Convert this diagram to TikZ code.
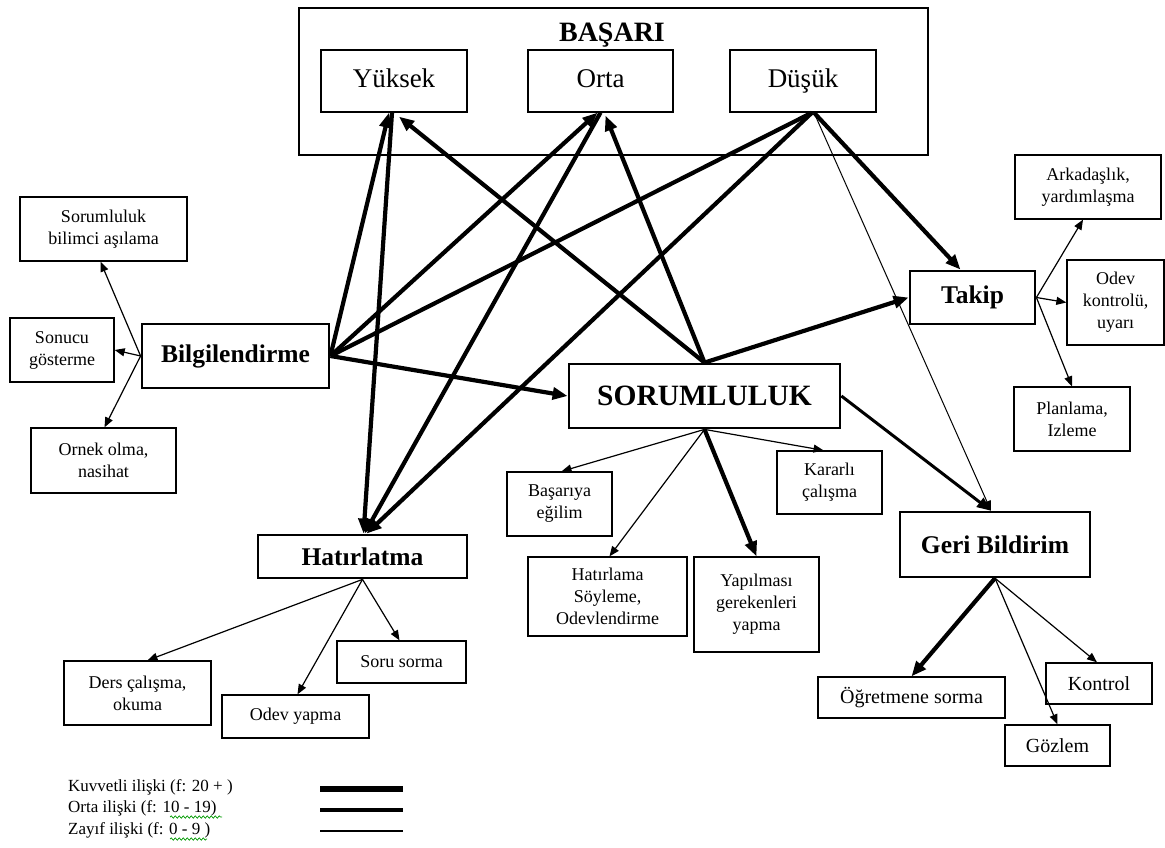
\documentclass[tikz,border=0pt]{standalone}
\usepackage{fontspec}
\setmainfont{Liberation Serif}
\usetikzlibrary{arrows.meta,decorations.pathmorphing}
\newcommand\fsz[2]{\fontsize{#1pt}{#2pt}\selectfont}
\begin{document}
\begin{tikzpicture}[x=1pt,y=-1pt,
  bx/.style={draw, line width=1.3pt, inner sep=0pt, align=center, font=\fsz{18}{22}},
  bxl/.style={bx, font=\fsz{20}{24}},
  lvl/.style={bx, font=\fsz{27}{30}, text height=19pt, text depth=5pt},
  hb/.style={bx, line width=2.8pt, font=\fsz{25.5}{30}\bfseries},
  wk/.style={line width=1.2pt, -{Triangle[length=10pt,width=8pt]}},
  md/.style={line width=3pt, -{Triangle[length=14pt,width=11pt]}},
  st/.style={line width=4.2pt, -{Triangle[length=15pt,width=12pt]}},
  stp/.style={line width=4.2pt},
  hair/.style={line width=1pt, -{Triangle[length=10pt,width=8pt]}},
  legtext/.style={anchor=base west, inner sep=0pt, font=\fsz{17}{20}},
  spell/.style={draw=green!60!black, line width=0.7pt, decorate, decoration={snake, amplitude=1.2pt, segment length=4pt}}
]
\useasboundingbox (0,0) rectangle (1165,848);

% BASARI group
\node[draw, line width=1.8pt, inner sep=0pt, minimum width=629pt, minimum height=147pt] (basari) at (613.5,81.5) {};
\node[inner sep=0pt, font=\fsz{28}{30}\bfseries] (basarit) at (612,35) {BAŞARI};
\node[lvl, minimum width=146pt, minimum height=62pt] (yuk) at (394,81) {Yüksek};
\node[lvl, minimum width=145pt, minimum height=62pt] (orta) at (600.5,81) {Orta};
\node[lvl, minimum width=146pt, minimum height=62pt] (dus) at (803,81) {Düşük};

% Bilgilendirme
\node[hb, minimum width=187pt, minimum height=64pt] (bilg) at (235.5,356) {Bilgilendirme};
\node[bx, minimum width=167pt, minimum height=64pt] (sorbil) at (103.5,229) {Sorumluluk\\bilimci aşılama};
\node[bx, minimum width=104pt, minimum height=64pt] (sonucu) at (62,350) {Sonucu\\gösterme};
\node[bx, minimum width=145pt, minimum height=65pt] (ornek) at (103.5,460.5) {Ornek olma,\\nasihat};

% Sorumluluk
\node[hb, font=\fsz{29.5}{32}\bfseries, minimum width=271pt, minimum height=64pt] (sor) at (704.5,396) {SORUMLULUK};
\node[bx, minimum width=105pt, minimum height=64pt] (bas) at (559.5,504) {Başarıya\\eğilim};
\node[bx, minimum width=105pt, minimum height=63pt] (kar) at (829.5,482.5) {Kararlı\\çalışma};
\node[bx, minimum width=159pt, minimum height=79pt] (hsoy) at (607.5,596.5) {Hatırlama\\Söyleme,\\Odevlendirme};
\node[bx, minimum width=125pt, minimum height=95pt] (yap) at (756.5,604.5) {Yapılması\\gerekenleri\\yapma};

% Takip
\node[hb, minimum width=125pt, minimum height=53pt] (tak) at (972.5,297.5) {Takip};
\node[bx, minimum width=146pt, minimum height=64pt] (ark) at (1088,187) {Arkadaşlık,\\yardımlaşma};
\node[bx, minimum width=97pt, minimum height=85pt] (odk) at (1115.5,302.5) {Odev\\kontrolü,\\uyarı};
\node[bx, minimum width=116pt, minimum height=64pt] (plan) at (1072,419) {Planlama,\\Izleme};

% Geri Bildirim
\node[hb, line width=2.4pt, minimum width=190pt, minimum height=65pt] (geri) at (995,544.5) {Geri Bildirim};
\node[bxl, minimum width=187pt, minimum height=41pt] (ogr) at (911.5,697.5) {Öğretmene sorma};
\node[bxl, minimum width=106pt, minimum height=41pt] (kon) at (1099,683.5) {Kontrol};
\node[bxl, minimum width=105pt, minimum height=41pt] (goz) at (1057.5,745.5) {Gözlem};

% Hatirlatma
\node[hb, minimum width=209pt, minimum height=43pt] (hat) at (362.5,556.5) {Hatırlatma};
\node[bx, minimum width=147pt, minimum height=64pt] (ders) at (137.5,693) {Ders çalışma,\\okuma};
\node[bx, minimum width=147pt, minimum height=43pt] (oy) at (295.5,716.5) {Odev yapma};
\node[bx, minimum width=129pt, minimum height=42pt] (soru) at (401.5,662) {Soru sorma};

% strong connectors around BASARI
\draw[st] (bilg.east) -- ([xshift=-5pt]yuk.south);
\draw[st] (bilg.east) -- ([xshift=-3pt]orta.south);
\draw[stp] (bilg.east) -- ([xshift=9pt]dus.south);
\draw[st] (bilg.east) -- (sor.west);
\draw[st] ([xshift=-2pt]yuk.south) -- ([xshift=1pt]hat.north);
\draw[st] (orta.south) -- ([xshift=2pt]hat.north);
\draw[st] ([xshift=9pt]dus.south) -- ([xshift=4pt]hat.north);
\draw[st] (sor.north) -- ([xshift=5pt,yshift=-4pt]yuk.south);
\draw[st] (sor.north) -- ([xshift=5pt,yshift=-3pt]orta.south);
\draw[st] ([xshift=11pt]dus.south) -- ([xshift=-12pt]tak.north);
\draw[st] (sor.north) -- (tak.west);
\draw[md] (sor.east) -- ([xshift=-4pt]geri.north);
\draw[hair] ([xshift=11pt]dus.south) -- ([xshift=-4pt]geri.north);

% Bilgilendirme children
\draw[wk] (bilg.west) -- ([xshift=-3pt]sorbil.south);
\draw[wk] (bilg.west) -- (sonucu.east);
\draw[wk] (bilg.west) -- ([xshift=1pt]ornek.north);

% Sorumluluk children
\draw[wk] (sor.south) -- ([xshift=2pt]bas.north);
\draw[wk] (sor.south) -- ([xshift=2pt]hsoy.north);
\draw[st] (sor.south) -- (yap.north);
\draw[wk] (sor.south) -- ([xshift=-6pt]kar.north);

% Takip children
\draw[wk] (tak.east) -- ([xshift=-5pt]ark.south);
\draw[wk] (tak.east) -- (odk.west);
\draw[wk] (tak.east) -- (plan.north);

% Geri Bildirim children
\draw[st] (geri.south) -- (ogr.north);
\draw[wk] (geri.south) -- (goz.north);
\draw[wk] (geri.south) -- ([xshift=-2pt]kon.north);

% Hatirlatma children
\draw[wk] (hat.south) -- ([xshift=10pt]ders.north);
\draw[wk] (hat.south) -- ([xshift=2pt]oy.north);
\draw[wk] (hat.south) -- ([xshift=-2pt]soru.north);

% legend
\node[legtext] (l1) at (68,791) {Kuvvetli ilişki (f: 20 + )};
\node[legtext] (l2) at (68,812) {Orta ilişki (f: 10 - 19)};
\node[legtext] (l3) at (68,834) {Zayıf ilişki (f: 0 - 9 )};
\coordinate (a1) at (320,789); \coordinate (b1) at (403,789);
\coordinate (a2) at (320,810); \coordinate (b2) at (403,810);
\coordinate (a3) at (320,831); \coordinate (b3) at (403,831);
\draw[line width=5.5pt] (a1) -- (b1);
\draw[line width=3.8pt] (a2) -- (b2);
\draw[line width=1.8pt] (a3) -- (b3);
\coordinate (s1) at (170,817); \coordinate (e1) at (222,817);
\coordinate (s2) at (170,839); \coordinate (e2) at (207,839);
\draw[spell] (s1) -- (e1);
\draw[spell] (s2) -- (e2);
\end{tikzpicture}
\end{document}
